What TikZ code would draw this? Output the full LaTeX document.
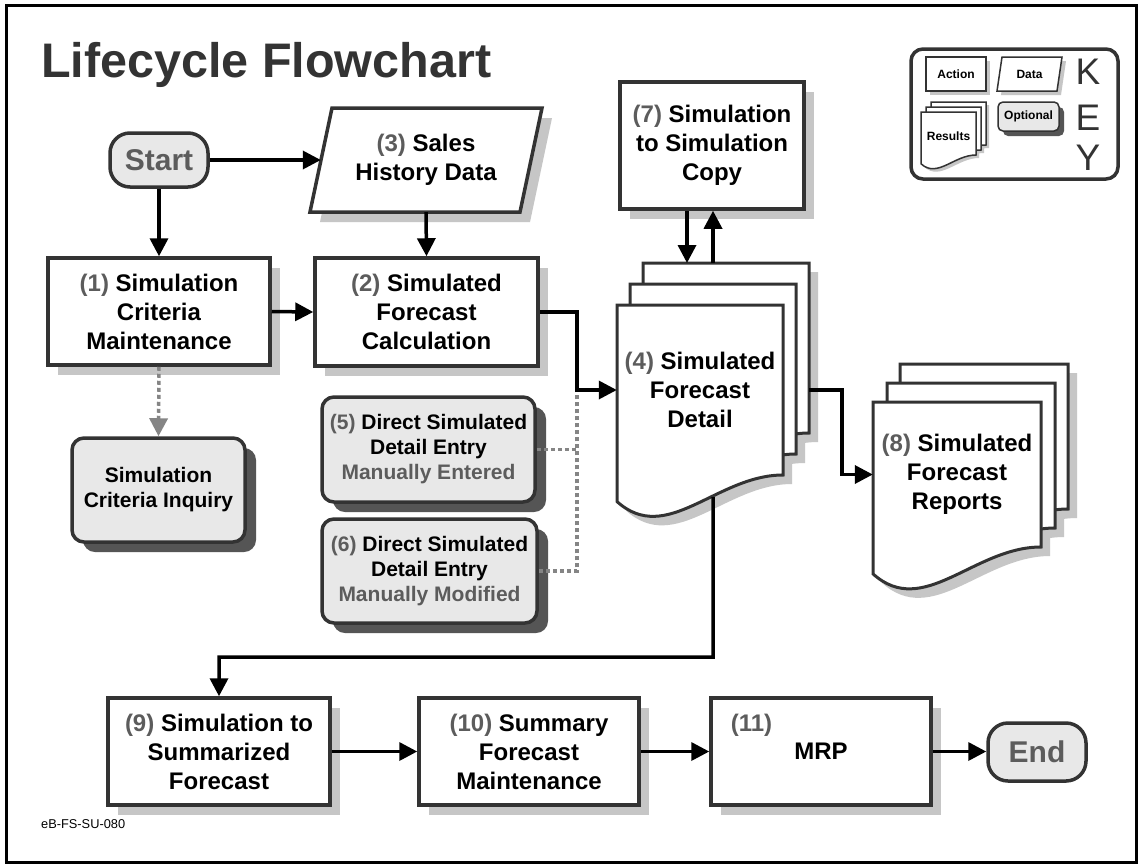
\documentclass[tikz,border=0pt]{standalone}
\usepackage{fontspec}
\setmainfont{Liberation Sans}
\usetikzlibrary{arrows.meta,shadows,calc}

\definecolor{edge}{HTML}{333333}
\definecolor{numgrey}{HTML}{5C5C5C}
\definecolor{optfill}{HTML}{E8E8E8}
\definecolor{lightshade}{HTML}{C6C6C6}
\definecolor{darkshade}{HTML}{555555}
\definecolor{dotgrey}{HTML}{858585}

\newcommand\flowfont{\bfseries\fontsize{24}{29}\selectfont}
\newcommand\optfont{\bfseries\fontsize{21}{25}\selectfont}
\newcommand\keyfont{\bfseries\fontsize{12}{14}\selectfont}
\newcommand\stepnum[1]{\textcolor{numgrey}{#1}}

% one sheet of a document stack: line width, left, top, width, height at right edge
\newcommand\docsheet[5]{%
  \filldraw[draw=edge,fill=white,line width=#1,line join=miter]
    (#2,#3) -- ({#2+#4},#3) -- ({#2+#4},{#3+#5})
    .. controls ({#2+0.6*#4},{#3+#5}) and ({#2+0.3*#4},{#3+#5+0.43*#4}) ..
    (#2,{#3+#5+0.16*#4}) -- cycle;}
% its shadow: offset, left, top, width, height
\newcommand\docshade[5]{%
  \fill[lightshade]
    ({#2+#1},{#3+#1}) -- ({#2+#4+#1},{#3+#1}) -- ({#2+#4+#1},{#3+#5+#1})
    .. controls ({#2+0.6*#4+#1},{#3+#5+#1}) and ({#2+0.3*#4+#1},{#3+#5+0.43*#4+#1}) ..
    ({#2+#1},{#3+#5+0.16*#4+#1}) -- cycle;}

\tikzset{
  box/.style={draw=edge, line width=3.5pt, fill=white, align=center, inner sep=0pt,
    font=\flowfont,
    drop shadow={shadow xshift=10pt, shadow yshift=-10pt, fill=lightshade, opacity=1}},
  optbox/.style={draw=edge, line width=3.5pt, fill=optfill, rounded corners=12pt,
    align=center, inner sep=0pt, font=\optfont,
    drop shadow={shadow xshift=11pt, shadow yshift=-10pt, fill=darkshade, opacity=1}},
  terminal/.style={draw=edge, line width=3.5pt, fill=optfill, rounded corners=20pt,
    text=numgrey, inner sep=0pt, font=\bfseries\fontsize{30}{33}\selectfont},
  doctext/.style={align=center, inner sep=0pt, font=\flowfont},
  flow/.style={line width=3.5pt, draw=black, -{Triangle[length=18pt,width=18pt]}},
  hint/.style={line width=3.5pt, draw=dotgrey, dash pattern=on 4pt off 3pt},
  keyletter/.style={text=edge, inner sep=0pt, font=\fontsize{37}{40}\selectfont},
}

\begin{document}
\begin{tikzpicture}[x=1pt,y=-1pt]
\useasboundingbox (0,0) rectangle (1139,865);
\fill[white] (0,0) rectangle (1139,865);
\draw[line width=3pt] (6,5) rectangle (1136,862);

% heading
\node[anchor=base west, inner sep=0pt, text=edge,
      font=\bfseries\fontsize{48.5}{52}\selectfont] (title) at (41,77) {Lifecycle Flowchart};

% legend
\node[draw=edge, line width=3.5pt, rounded corners=12pt,
      minimum width=207pt, minimum height=130pt] (keybox) at (1014.5,114) {};
\node[draw=edge, line width=1.5pt, fill=white, minimum width=60pt, minimum height=34pt,
      font=\keyfont, drop shadow={shadow xshift=4pt,shadow yshift=-4pt,fill=lightshade,opacity=1}]
      (keyaction) at (956,74) {Action};
\fill[lightshade] (1006,61) -- (1066,61) -- (1061,95) -- (1001,95) -- cycle;
\filldraw[draw=edge, fill=white, line width=1.5pt] (1002,57) -- (1062,57) -- (1057,91) -- (997,91) -- cycle;
\node[font=\keyfont] (keydata) at (1029.5,74) {Data};
\docshade{3}{931}{102}{55}{43}
\docshade{3}{926}{107}{55}{43}
\docshade{3}{921}{112}{55}{43}
\docsheet{1.5pt}{931}{102}{55}{43}
\docsheet{1.5pt}{926}{107}{55}{43}
\docsheet{1.5pt}{921}{112}{55}{43}
\node[font=\keyfont] (keyresults) at (948.5,136) {Results};
\node[draw=edge, line width=1.5pt, fill=optfill, rounded corners=5pt,
      minimum width=61pt, minimum height=29pt, font=\keyfont,
      drop shadow={shadow xshift=5pt,shadow yshift=-5pt,fill=darkshade,opacity=1}]
      (keyopt) at (1028.5,116.5) {Optional};
\node[keyletter] (keyK) at (1088,72) {K};
\node[keyletter] (keyE) at (1088,118) {E};
\node[keyletter] (keyY) at (1088,158) {Y};

% start and sales history
\node[terminal, minimum width=98pt, minimum height=54pt] (start) at (159,160) {Start};
\fill[lightshade] (342,118) -- (552,118) -- (530,222) -- (320,222) -- cycle;
\filldraw[draw=edge, fill=white, line width=3.5pt] (332,108) -- (542,108) -- (520,212) -- (310,212) -- cycle;
\node[doctext, minimum width=210pt, minimum height=104pt] (sales) at (426,160)
      {\stepnum{(3)} Sales\\History Data};

% action boxes
\node[box, minimum width=222pt, minimum height=107pt] (n1) at (159,311.5)
      {\stepnum{(1)} Simulation\\Criteria\\Maintenance};
\node[box, minimum width=223pt, minimum height=108pt] (n2) at (426.5,312)
      {\stepnum{(2)} Simulated\\Forecast\\Calculation};
\node[box, minimum width=184pt, minimum height=127pt] (n7) at (712,145.5)
      {\stepnum{(7)} Simulation\\to Simulation\\Copy};
\node[box, minimum width=222pt, minimum height=107pt] (n9) at (219,751.5)
      {\stepnum{(9)} Simulation to\\Summarized\\Forecast};
\node[box, minimum width=220pt, minimum height=107pt] (n10) at (529,751.5)
      {\stepnum{(10)} Summary\\Forecast\\Maintenance};
\node[box, minimum width=220pt, minimum height=107pt] (n11) at (821,751.5) {MRP};
\node[inner sep=0pt, font=\flowfont, text=numgrey] (n11num) at (751.5,725) {(11)};

% optional boxes
\node[optbox, minimum width=173pt, minimum height=104pt] (inq) at (158.5,490)
      {Simulation\\Criteria Inquiry};
\node[optbox, minimum width=213pt, minimum height=105pt] (n5) at (428.5,449.5)
      {\stepnum{(5)} Direct Simulated\\Detail Entry\\\stepnum{Manually Entered}};
\node[optbox, minimum width=215pt, minimum height=104pt] (n6) at (429.5,571)
      {\stepnum{(6)} Direct Simulated\\Detail Entry\\\stepnum{Manually Modified}};

\node[terminal, minimum width=98pt, minimum height=58pt] (end) at (1037,752) {End};

% forecast detail stack
\docshade{9}{643}{263}{166}{170}
\docshade{9}{630}{284}{166}{170}
\docshade{9}{617}{305}{166}{170}
\docsheet{3pt}{643}{263}{166}{170}
\docsheet{3pt}{630}{284}{166}{170}
\docsheet{3pt}{617}{305}{166}{170}
\node[doctext, minimum width=166pt, minimum height=170pt] (n4) at (700,390)
      {\stepnum{(4)} Simulated\\Forecast\\Detail};

% forecast reports stack
\docshade{9}{900}{364}{168}{145}
\docshade{9}{887}{383}{168}{145}
\docshade{9}{873}{402}{168}{145}
\docsheet{3pt}{900}{364}{168}{145}
\docsheet{3pt}{887}{383}{168}{145}
\docsheet{3pt}{873}{402}{168}{145}
\node[doctext, minimum width=168pt, minimum height=145pt] (n8) at (957,474.5)
      {\stepnum{(8)} Simulated\\Forecast\\Reports};

\node[anchor=base west, inner sep=0pt, font=\fontsize{12.8}{15}\selectfont] (code) at (41,828) {eB-FS-SU-080};

% connectors
\coordinate (jn) at (577,390);
\coordinate (b4a) at (687,263);
\coordinate (b4b) at (713,263);
\coordinate (c49) at (713,657);

\draw[hint] (n5.east) -- (n5.east -| jn);
\draw[hint] (n6.east) -- (n6.east -| jn) -- (jn);
\draw[hint, -{Triangle[length=18pt,width=18pt]}] (n1.south) -- (inq.north);

\draw[flow] (start.east) -- (sales.west);
\draw[flow] (start.south) -- (n1.north);
\draw[flow] (sales.south) -- (n2.north);
\draw[flow] (n1.east) -- (n2.west);
\draw[flow] (n2.east) -| (jn) -- (n4.west);
\draw[flow] (b4a |- n7.south) -- (b4a);
\draw[flow] (b4b) -- (b4b |- n7.south);
\draw[flow] ($(n4.east)+(26,0)$) -- ++(33,0) |- (n8.west);
\draw[flow] ($(n4.south east)+(-70,22)$) -- (c49) -| (n9.north);
\draw[flow] (n9.east) -- (n10.west);
\draw[flow] (n10.east) -- (n11.west);
\draw[flow] (n11.east) -- (n11.east -| end.west);
\end{tikzpicture}
\end{document}
